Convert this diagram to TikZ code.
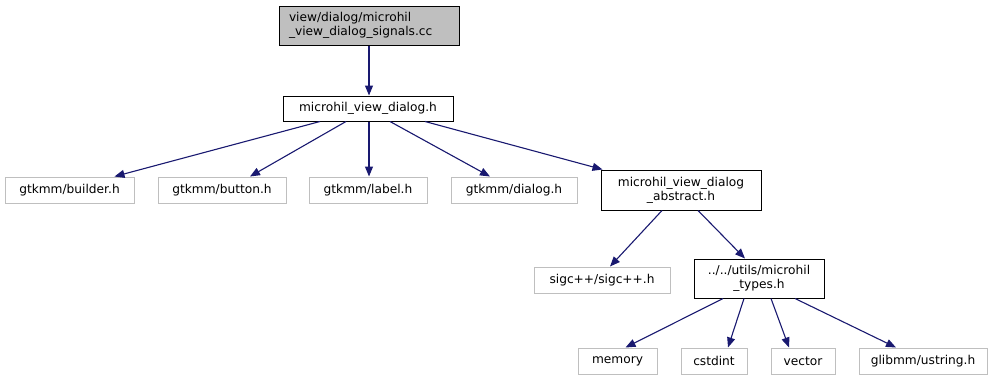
\documentclass[tikz,border=0pt]{standalone}
\usepackage{fontspec}
\setmainfont{DejaVu Sans}
\usetikzlibrary{arrows.meta}
\definecolor{edgeblue}{HTML}{191970}
\definecolor{lightframe}{HTML}{BFBFBF}
\definecolor{curfill}{HTML}{BFBFBF}
\begin{document}
\begin{tikzpicture}[x=1pt,y=-1pt,
  every node/.style={font=\fontsize{12.2}{14}\selectfont, inner sep=0pt, align=center},
  filebox/.style={draw=black, line width=1pt, fill=white},
  sysbox/.style={draw=lightframe, line width=1pt, fill=white},
  curbox/.style={draw=black, line width=1pt, fill=curfill},
  dep/.style={draw=edgeblue, line width=1.1pt, -{Triangle[length=10pt,width=8pt]}}]
\useasboundingbox (0,0) rectangle (998,380);
% the source file and its direct header
\node[curbox, minimum width=180, minimum height=39, text width=160, align=left] (src) at (369,25.5) {view/dialog/microhil\\\_view\_dialog\_signals.cc};
\node[filebox, minimum width=170, minimum height=25] (dlg) at (368,108.5) {microhil\_view\_dialog.h};
% headers included by microhil_view_dialog.h
\node[sysbox, minimum width=129, minimum height=26] (builder) at (69.5,190) {gtkmm/builder.h};
\node[sysbox, minimum width=128, minimum height=26] (button) at (222,190) {gtkmm/button.h};
\node[sysbox, minimum width=118, minimum height=26] (label) at (368,190) {gtkmm/label.h};
\node[sysbox, minimum width=126, minimum height=26] (dialog) at (514,190) {gtkmm/dialog.h};
\node[filebox, minimum width=160, minimum height=40] (abs) at (681,190) {microhil\_view\_dialog\\\_abstract.h};
% headers included by the abstract dialog
\node[sysbox, minimum width=136, minimum height=26] (sigc) at (602,280) {sigc++/sigc++.h};
\node[filebox, minimum width=130, minimum height=39] (types) at (759,278.5) {../../utils/microhil\\\_types.h};
% headers included by microhil_types.h
\node[sysbox, minimum width=79, minimum height=26] (memory) at (617.5,361) {memory};
\node[sysbox, minimum width=66, minimum height=26] (cstdint) at (714,361) {cstdint};
\node[sysbox, minimum width=64, minimum height=26] (vector) at (803,361) {vector};
\node[sysbox, minimum width=128, minimum height=26] (glib) at (923,361) {glibmm/ustring.h};
% include relations
\draw[dep] ([xshift=0pt]src.south) -- ([xshift=1pt]dlg.north);
\draw[dep] ([xshift=-48pt]dlg.south) -- ([xshift=45pt]builder.north);
\draw[dep] ([xshift=-22pt]dlg.south) -- ([xshift=28pt]button.north);
\draw[dep] ([xshift=1pt]dlg.south) -- ([xshift=1pt]label.north);
\draw[dep] ([xshift=22pt]dlg.south) -- ([xshift=-24pt]dialog.north);
\draw[dep] ([xshift=57pt]dlg.south) -- ([xshift=2pt]abs.north west);
\draw[dep] ([xshift=-19pt]abs.south) -- ([xshift=8pt]sigc.north);
\draw[dep] ([xshift=17pt]abs.south) -- ([xshift=-14pt]types.north);
\draw[dep] ([xshift=-36pt]types.south) -- ([xshift=8pt]memory.north);
\draw[dep] ([xshift=-15pt]types.south) -- ([xshift=14pt]cstdint.north);
\draw[dep] ([xshift=12pt]types.south) -- ([xshift=-14pt]vector.north);
\draw[dep] ([xshift=36pt]types.south) -- ([xshift=-27pt]glib.north);
\end{tikzpicture}
\end{document}
